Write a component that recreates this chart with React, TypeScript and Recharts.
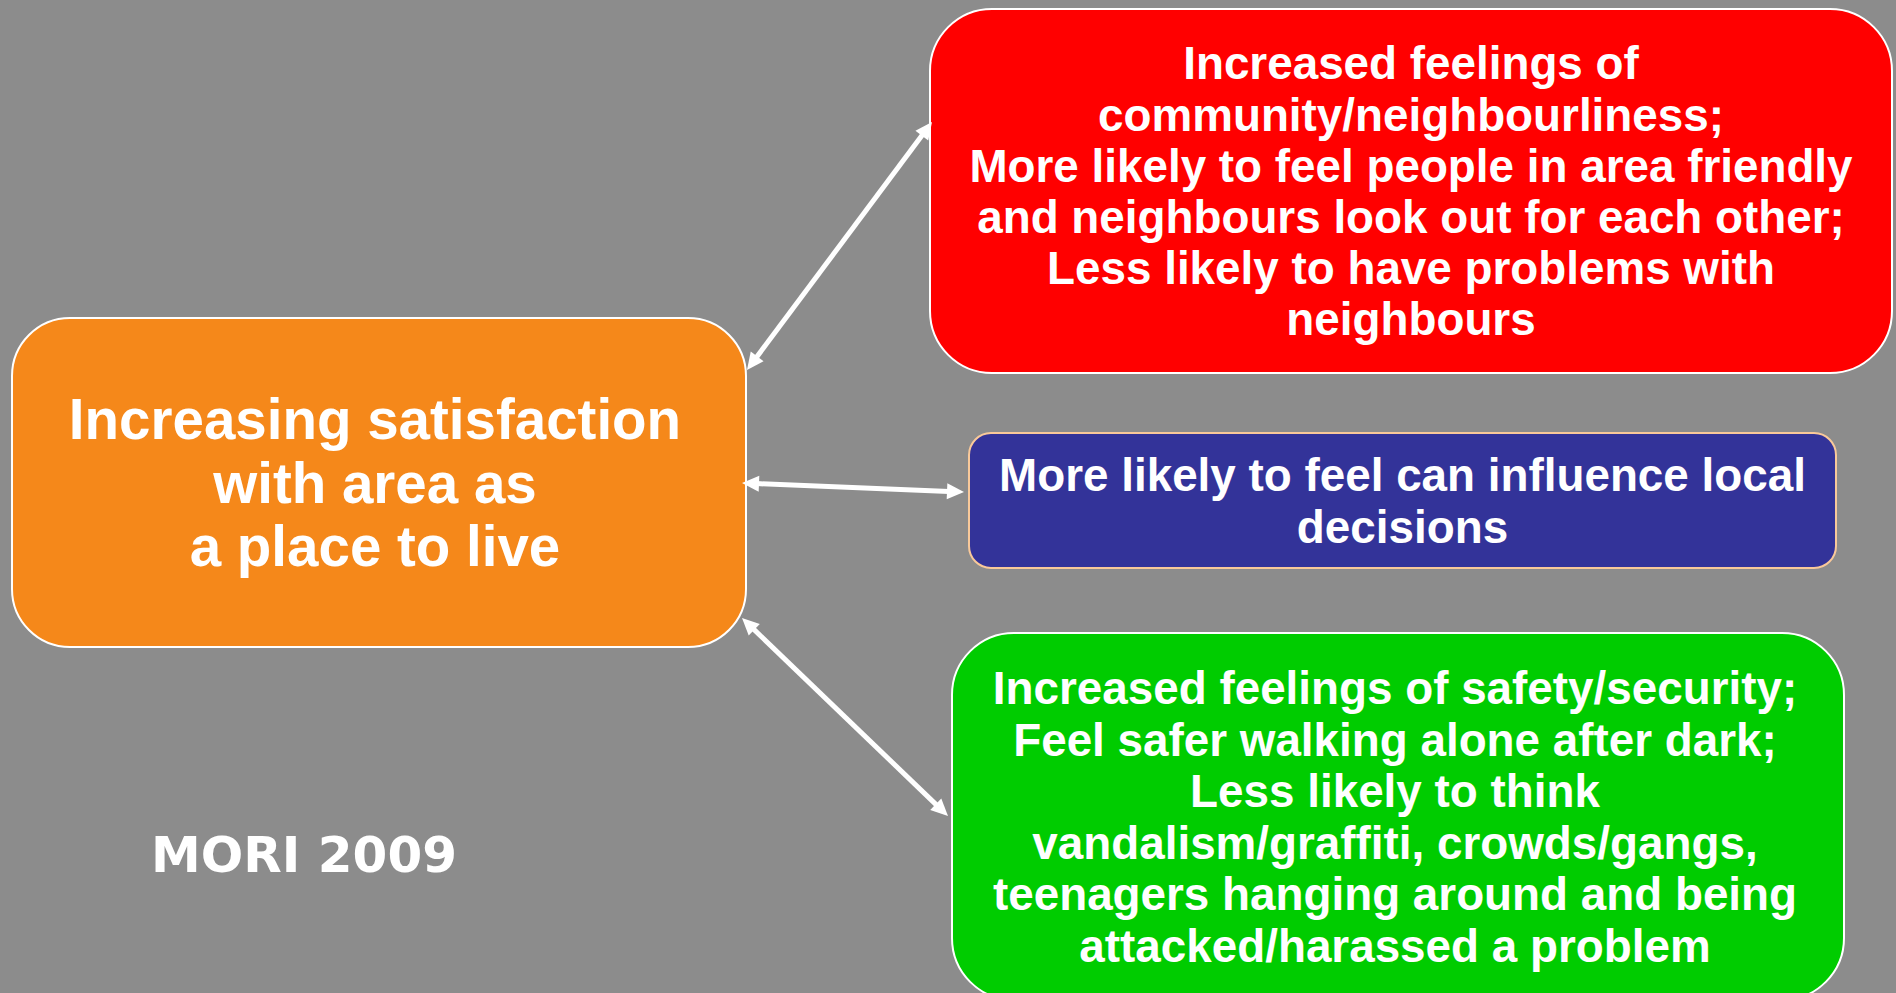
import { ComposedChart, XAxis, YAxis, ReferenceArea, ReferenceLine, ReferenceDot } from 'recharts';

const W = 1896;
const H = 993;

// texts shown in each box
const centreLines = ['Increasing satisfaction', 'with area as', 'a place to live'];
const communityLines = [
  'Increased feelings of',
  'community/neighbourliness;',
  'More likely to feel people in area friendly',
  'and neighbours look out for each other;',
  'Less likely to have problems with',
  'neighbours',
];
const influenceLines = ['More likely to feel can influence local', 'decisions'];
const safetyLines = [
  'Increased feelings of safety/security;',
  'Feel safer walking alone after dark;',
  'Less likely to think',
  'vandalism/graffiti, crowds/gangs,',
  'teenagers hanging around and being',
  'attacked/harassed a problem',
];
const sourceLabel = 'MORI 2009';

const BOX_FONT = "'Liberation Sans', Arial, sans-serif";

// layout in chart units (1 unit = 1px)
const boxes = [
  { id: 'centre', lines: centreLines, x1: 12, x2: 746, y1: 318, y2: 647, fill: '#F5881A', stroke: '#FFFFFF', r: 58, fontSize: 56.5, lineHeight: 63.5, dx: -4 },
  { id: 'community', lines: communityLines, x1: 930, x2: 1892, y1: 9, y2: 373, fill: '#FF0000', stroke: '#FFFFFF', r: 62, fontSize: 45.8, lineHeight: 51.2, dx: 0 },
  { id: 'influence', lines: influenceLines, x1: 969, x2: 1836, y1: 433, y2: 568, fill: '#333399', stroke: '#F9C99A', r: 22, fontSize: 45.8, lineHeight: 51.2, dx: 0 },
  { id: 'safety', lines: safetyLines, x1: 952, x2: 1844, y1: 633, y2: 1000, fill: '#00CC00', stroke: '#FFFFFF', r: 62, fontSize: 45.8, lineHeight: 51.5, dx: -3 },
];

const arrows = [
  { id: 'a1', from: { x: 747, y: 370 }, to: { x: 932, y: 122 } },
  { id: 'a2', from: { x: 742, y: 483 }, to: { x: 964, y: 492 } },
  { id: 'a3', from: { x: 742, y: 618 }, to: { x: 948, y: 816 } },
];

type Box = (typeof boxes)[number];

function BoxShape(props: any & { box: Box }) {
  const { x, y, width, height, box } = props;
  const cx = x + width / 2 + box.dx;
  const cy = y + height / 2;
  const n = box.lines.length;
  const first = cy - ((n - 1) * box.lineHeight) / 2 + box.fontSize * 0.36;
  return (
    <g>
      <rect x={x} y={y} width={width} height={height} rx={box.r} ry={box.r} fill={box.fill} stroke={box.stroke} strokeWidth={2} />
      {box.lines.map((line: string, i: number) => (
        <text
          key={i}
          x={cx}
          y={first + i * box.lineHeight}
          textAnchor="middle"
          fill="#FFFFFF"
          fontFamily={BOX_FONT}
          fontWeight="bold"
          fontSize={box.fontSize}
        >
          {line}
        </text>
      ))}
    </g>
  );
}

/** Two-headed white connector. */
function ArrowShape(props: any) {
  const { x1, y1, x2, y2 } = props;
  const dx = x2 - x1;
  const dy = y2 - y1;
  const len = Math.hypot(dx, dy);
  const ux = dx / len;
  const uy = dy / len;
  const head = 17;
  const half = 8;
  const head1 = `${x1},${y1} ${x1 + ux * head - uy * half},${y1 + uy * head + ux * half} ${x1 + ux * head + uy * half},${y1 + uy * head - ux * half}`;
  const head2 = `${x2},${y2} ${x2 - ux * head - uy * half},${y2 - uy * head + ux * half} ${x2 - ux * head + uy * half},${y2 - uy * head - ux * half}`;
  return (
    <g>
      <line
        x1={x1 + ux * (head - 2)}
        y1={y1 + uy * (head - 2)}
        x2={x2 - ux * (head - 2)}
        y2={y2 - uy * (head - 2)}
        stroke="#FFFFFF"
        strokeWidth={5}
      />
      <polygon points={head1} fill="#FFFFFF" />
      <polygon points={head2} fill="#FFFFFF" />
    </g>
  );
}

export default function App() {
  return (
    <div style={{ position: 'absolute', left: 0, top: 0, width: W, height: H, background: '#8C8C8C' }}>
      <ComposedChart width={W} height={H} data={[]} margin={{ top: 0, right: 0, bottom: 0, left: 0 }}>
        <XAxis type="number" dataKey="x" domain={[0, W]} allowDataOverflow hide />
        <YAxis type="number" dataKey="y" domain={[0, H]} allowDataOverflow reversed hide />
        {arrows.map((a) => (
          <ReferenceLine key={a.id} segment={[a.from, a.to]} ifOverflow="visible" shape={ArrowShape} />
        ))}
        {boxes.map((b) => (
          <ReferenceArea
            key={b.id}
            x1={b.x1}
            x2={b.x2}
            y1={b.y1}
            y2={b.y2}
            ifOverflow="visible"
            shape={(p: any) => <BoxShape {...p} box={b} />}
          />
        ))}
        <ReferenceDot
          x={304}
          y={872}
          r={0}
          ifOverflow="visible"
          shape={(p: any) => (
            <text
              x={p.cx}
              y={p.cy}
              textAnchor="middle"
              fill="#FFFFFF"
              fontFamily="'DejaVu Sans', Verdana, sans-serif"
              fontWeight="bold"
              fontSize={50}
            >
              {sourceLabel}
            </text>
          )}
        />
      </ComposedChart>
    </div>
  );
}
